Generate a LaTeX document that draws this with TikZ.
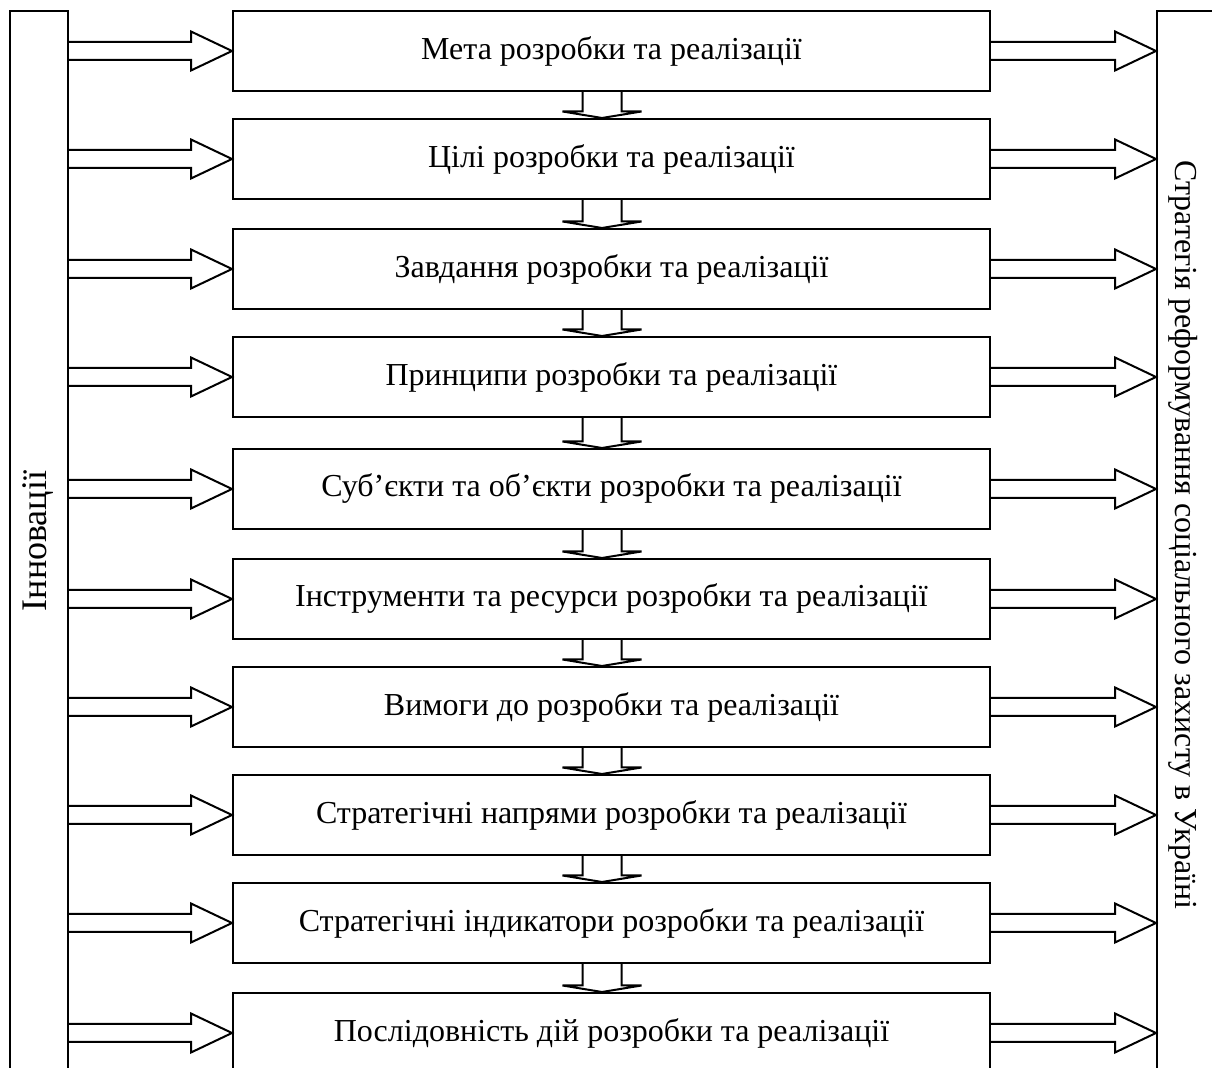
\documentclass[tikz,border=0pt]{standalone}
\usepackage{fontspec}
\setmainfont{Liberation Serif}
\usetikzlibrary{calc}

% hollow block arrow from a point (#1) to a point (#2), pointing right
\newcommand\rightblock[2]{%
  \draw[blockline] let \p1=(#1), \p2=(#2) in
    (\x1,\y1+4.5pt) -- (\x2-20.5pt,\y1+4.5pt) -- (\x2-20.5pt,\y1+9.75pt)
    -- (\x2,\y1) -- (\x2-20.5pt,\y1-9.75pt) -- (\x2-20.5pt,\y1-4.5pt) -- (\x1,\y1-4.5pt);}
% hollow block arrow from (#1) down to (#2)
\newcommand\downblock[2]{%
  \draw[blockline] let \p1=(#1), \p2=(#2) in
    (\x1-9.75pt,\y1) -- (\x1-9.75pt,\y2+3.25pt) -- (\x1-19.75pt,\y2+3.25pt)
    -- (\x1,\y2) -- (\x1+19.75pt,\y2+3.25pt) -- (\x1+9.75pt,\y2+3.25pt) -- (\x1+9.75pt,\y1);}

\begin{document}
\begin{tikzpicture}[x=0.5pt,y=-0.5pt,
  txt/.style={font=\fontsize{16}{19}\selectfont},
  stage/.style={draw, line width=1pt, minimum width=378.5pt, minimum height=40pt,
    inner sep=0pt, anchor=north, txt},
  sidebar/.style={draw, line width=1pt, inner sep=0pt, anchor=north west},
  blockline/.style={line width=1pt, line join=miter}]
\clip (0,0) rectangle (1212,1068);

% side bars
\node[sidebar, minimum width=29pt, minimum height=545pt] (lbar) at (9,10) {};
\node[sidebar, minimum width=40pt, minimum height=545pt] (rbar) at (1156,10) {};
\node[font=\fontsize{18}{21}\selectfont, rotate=90] (innov) at (38,541) {Інновації};
\node[txt, rotate=-90] (strat) at (1183,535) {Стратегія реформування соціального захисту в Україні};

% stages
\foreach \i/\t/\lbl in {
  1/10/{Мета розробки та реалізації},
  2/118/{Цілі розробки та реалізації},
  3/228/{Завдання розробки та реалізації},
  4/336/{Принципи розробки та реалізації},
  5/448/{Суб’єкти та об’єкти розробки та реалізації},
  6/558/{Інструменти та ресурси розробки та реалізації},
  7/666/{Вимоги до розробки та реалізації},
  8/774/{Стратегічні напрями розробки та реалізації},
  9/882/{Стратегічні індикатори розробки та реалізації},
  10/992/{Послідовність дій розробки та реалізації}}
  {\node[stage] (s\i) at (611.5,\t) {\lbl};}

% arrows from the left bar and into the right bar
\foreach \i in {1,...,10}{
  \rightblock{lbar.east |- s\i.west}{s\i.west}
  \rightblock{s\i.east}{rbar.west |- s\i.east}
}

% arrows between consecutive stages
\foreach \i [evaluate=\i as \j using int(\i+1)] in {1,...,9}{
  \downblock{$(s\i.south)+(-9.5,0)$}{$(s\j.north)+(-9.5,0)$}
}
\end{tikzpicture}
\end{document}
